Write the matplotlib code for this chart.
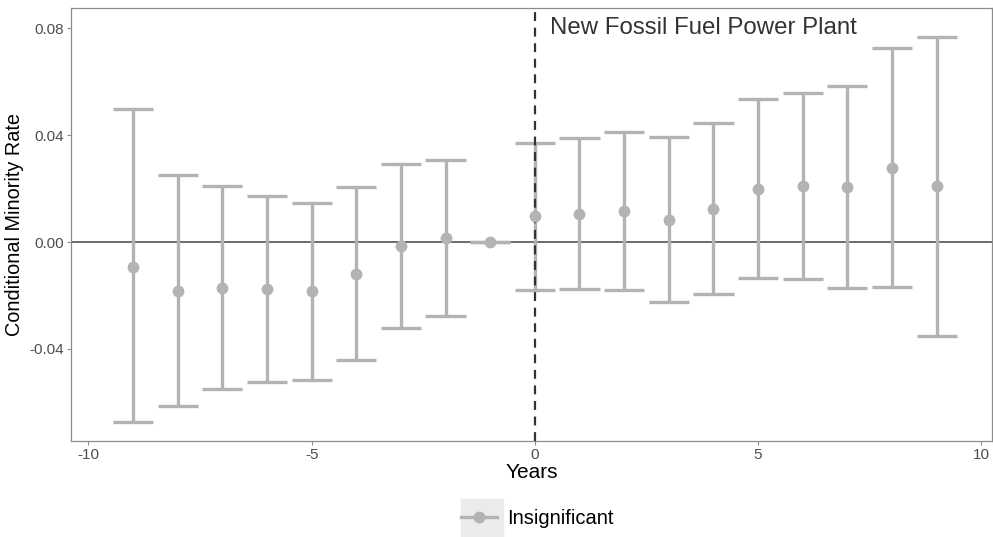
import matplotlib.pyplot as plt
from matplotlib.lines import Line2D
from matplotlib.patches import Rectangle

plt.rcParams['font.family'] = ['Liberation Sans', 'DejaVu Sans']

years = [-9, -8, -7, -6, -5, -4, -3, -2, -1, 0, 1, 2, 3, 4, 5, 6, 7, 8, 9]
estimate = [-0.0093, -0.0183, -0.0172, -0.0176, -0.0183, -0.0120, -0.0015, 0.0015, 0.0,
            0.0097, 0.0106, 0.0115, 0.0082, 0.0123, 0.0199, 0.0211, 0.0206, 0.0278, 0.0208]
upper = [0.0497, 0.0250, 0.0209, 0.0172, 0.0146, 0.0206, 0.0292, 0.0307, 0.0,
         0.0370, 0.0390, 0.0410, 0.0391, 0.0445, 0.0535, 0.0558, 0.0583, 0.0724, 0.0765]
lower = [-0.0673, -0.0613, -0.0550, -0.0523, -0.0516, -0.0441, -0.0321, -0.0277, 0.0,
         -0.0179, -0.0177, -0.0181, -0.0224, -0.0196, -0.0133, -0.0137, -0.0171, -0.0168, -0.0350]

grey = '#b3b3b3'
frame = '#8c8c8c'

fig = plt.figure(figsize=(9.93, 5.37), dpi=100)
ax = fig.add_axes([71 / 993, 1 - 441 / 537, (992 - 71) / 993, (441 - 8) / 537])

ax.axhline(0, color='#444444', lw=1.1, zorder=1)
ax.axvline(0, color='#333333', lw=1.6, ls=(0, (4, 3)), zorder=3)

# error bars drawn by hand so caps span a fixed width in data units
for x, lo, hi in zip(years, lower, upper):
    ax.plot([x, x], [lo, hi], color=grey, lw=2.4, solid_capstyle='butt', zorder=2)
    ax.plot([x - 0.45, x + 0.45], [lo, lo], color=grey, lw=2.4, solid_capstyle='butt', zorder=2)
    ax.plot([x - 0.45, x + 0.45], [hi, hi], color=grey, lw=2.4, solid_capstyle='butt', zorder=2)
ax.plot(years, estimate, 'o', color=grey, ms=7.5, zorder=4)

ax.text(0.35, 0.08, 'New Fossil Fuel Power Plant', fontsize=17.3, color='#333333',
        ha='left', va='center')

ax.set_xlim(-10.39, 10.24)
ax.set_ylim(-0.0744, 0.0875)
ax.set_xticks([-10, -5, 0, 5, 10])
ax.set_xticklabels(['-10', '-5', '0', '5', '10'])
ax.set_yticks([-0.04, 0.0, 0.04, 0.08])
ax.set_yticklabels(['-0.04', '0.00', '0.04', '0.08'])
ax.tick_params(colors=frame, labelcolor='#4d4d4d', labelsize=11, length=3, width=0.8, pad=2)
for s in ax.spines.values():
    s.set_color(frame)
    s.set_linewidth(0.9)

ax.set_xlabel('Years', fontsize=15, labelpad=1)
ax.set_ylabel('Conditional Minority Rate', fontsize=14.3, labelpad=4)

handle = Line2D([], [], color=grey, lw=2.4, marker='o', ms=7.5)
fig.legend([handle], ['Insignificant'], loc='center', bbox_to_anchor=(537 / 993, 1 - 519 / 537),
           frameon=False, fontsize=14.5, handlelength=1.8, handletextpad=0.5)
fig.patches.append(Rectangle((461 / 993, 1 - 538 / 537), 42 / 993, 39 / 537,
                             transform=fig.transFigure, color='#ebebeb', zorder=0))

fig.savefig('out.png', dpi=100)
